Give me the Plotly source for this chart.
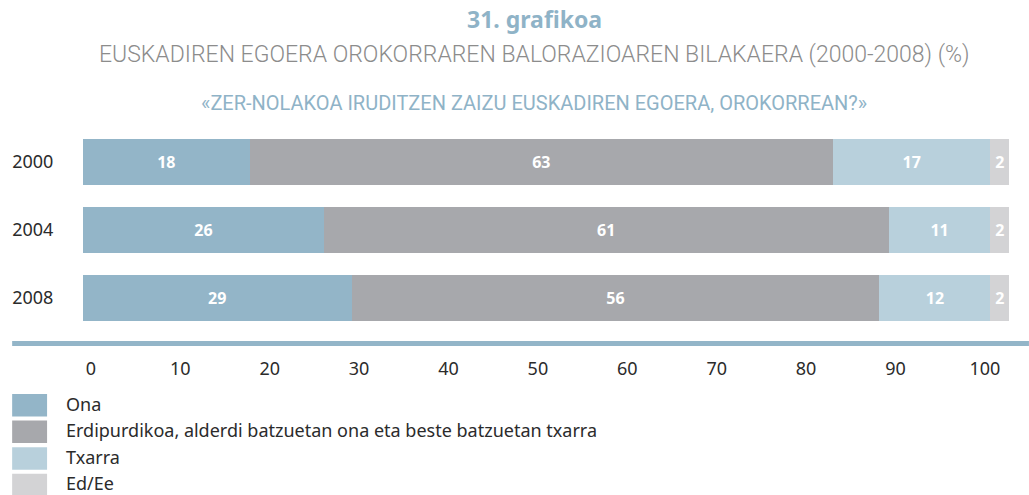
"""
31. grafikoa: Euskadiren egoera orokorraren balorazioaren bilakaera (2000-2008).
"""
import plotly.graph_objects as go

years = ["2000", "2004", "2008"]
series_names = [
    "Ona",
    "Erdipurdikoa, alderdi batzuetan ona eta beste batzuetan txarra",
    "Txarra",
    "Ed/Ee",
]
# bar lengths as drawn, and the rounded labels printed on them
ona = [18, 26, 29]
erdipurdikoa = [63, 61, 57]
txarra = [17, 11, 12]
ed_ee = [2, 2, 2]
ona_txt = ["18", "26", "29"]
erdipurdikoa_txt = ["63", "61", "56"]
txarra_txt = ["17", "11", "12"]
ed_ee_txt = ["2", "2", "2"]
x_ticks = [0, 10, 20, 30, 40, 50, 60, 70, 80, 90, 100]

colors = ["#93b5c8", "#a7a8ac", "#b8d0dc", "#d3d3d5"]
TXT = "#2b2b2b"
FONT = "Noto Sans"

W, H = 1029, 495
L, R, T, B = 81, 20, 128, 163
PW, PH = W - L - R, H - T - B


def px_x(x):
    return (x - L) / PW


def px_y(y):
    return (H - B - y) / PH


fig = go.Figure()
for name, vals, txt, col in zip(
    series_names,
    [ona, erdipurdikoa, txarra, ed_ee],
    [ona_txt, erdipurdikoa_txt, txarra_txt, ed_ee_txt],
    colors,
):
    fig.add_trace(go.Bar(
        y=years, x=vals, orientation="h", name=name,
        marker=dict(color=col, line=dict(width=0)),
        text=txt, textposition="inside", insidetextanchor="middle",
        textangle=0, textfont=dict(family=FONT, size=16, color="white", weight="bold"),
        showlegend=False, hoverinfo="skip",
    ))

# tick labels sit on their own slightly narrower scale in the original
tick_pos = [0.85 + 0.9655 * t for t in x_ticks]

fig.update_layout(
    width=W, height=H,
    barmode="stack", bargap=0.324,
    plot_bgcolor="white", paper_bgcolor="white",
    margin=dict(l=L, r=R, t=T, b=B, pad=0),
    font=dict(family=FONT, color=TXT),
    xaxis=dict(
        range=[0, 100], tickvals=tick_pos, ticktext=[str(t) for t in x_ticks],
        showgrid=False, zeroline=False, showline=False,
        ticks="outside", ticklen=20, tickcolor="rgba(0,0,0,0)",
        tickfont=dict(size=18, color=TXT),
    ),
    yaxis=dict(
        type="category", range=[2.5, -0.5],
        showgrid=False, zeroline=False, showline=False,
        ticks="outside", ticklen=25, tickcolor="rgba(0,0,0,0)",
        tickfont=dict(size=18, color=TXT),
    ),
)

# thick blue baseline
fig.add_shape(type="line", xref="paper", yref="paper",
              x0=px_x(10), x1=px_x(1029), y0=px_y(343.5), y1=px_y(343.5),
              line=dict(color="#93b5c8", width=5))

# titles
cx = px_x(533)
fig.add_annotation(text="<b>31. grafikoa</b>", xref="paper", yref="paper",
                   x=cx, y=px_y(19), showarrow=False, xanchor="center", yanchor="middle",
                   font=dict(size=23, color="#8fb3c7"))
fig.add_annotation(text="EUSKADIREN EGOERA OROKORRAREN BALORAZIOAREN BILAKAERA (2000-2008) (%)",
                   xref="paper", yref="paper", x=cx, y=px_y(55), showarrow=False,
                   xanchor="center", yanchor="middle",
                   font=dict(family="Roboto", size=23, color="#8c8c8c", weight=300))
fig.add_annotation(text="«ZER-NOLAKOA IRUDITZEN ZAIZU EUSKADIREN EGOERA, OROKORREAN?»",
                   xref="paper", yref="paper", x=cx, y=px_y(103), showarrow=False,
                   xanchor="center", yanchor="middle",
                   font=dict(family="Roboto", size=20, color="#8fb3c7"))

# legend drawn by hand: swatches 35x23, rows every 26.6 px
for i, (name, col) in enumerate(zip(series_names, colors)):
    top = 394 + i * 26.6
    fig.add_shape(type="rect", xref="paper", yref="paper",
                  x0=px_x(10), x1=px_x(45), y0=px_y(top), y1=px_y(top + 22.5),
                  fillcolor=col, line=dict(width=0))
    fig.add_annotation(text=name, xref="paper", yref="paper",
                       x=px_x(63), y=px_y(top + 9.5), showarrow=False,
                       xanchor="left", yanchor="middle", borderpad=0,
                       font=dict(size=18, color=TXT))

fig.write_html(
    "out.html",
    config={"displayModeBar": False},
    post_script="document.body.style.margin='0';document.body.style.overflow='hidden';",
)
